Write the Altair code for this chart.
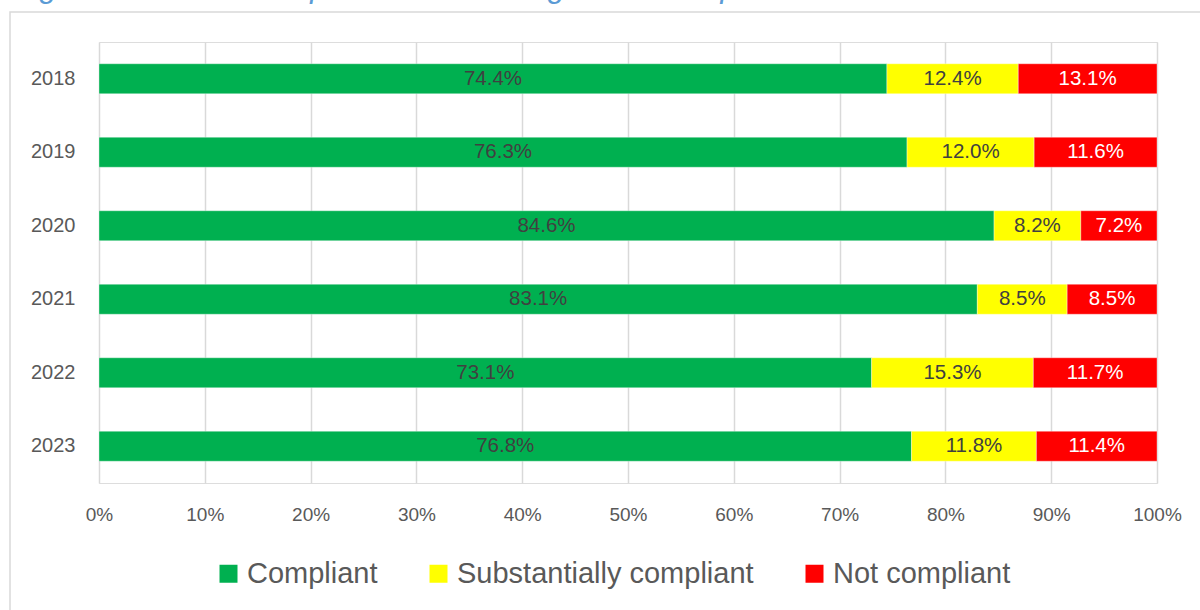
import altair as alt
import pandas as pd

# Compliance outcomes by inspection year (percent of regulations inspected)
years = ["2018", "2019", "2020", "2021", "2022", "2023"]
compliant = [74.4, 76.3, 84.6, 83.1, 73.1, 76.8]
substantially = [12.4, 12.0, 8.2, 8.5, 15.3, 11.8]
not_compliant = [13.1, 11.6, 7.2, 8.5, 11.7, 11.4]

categories = ["Compliant", "Substantially compliant", "Not compliant"]
colors = ["#00B050", "#FFFF00", "#FF0000"]
label_colors = ["#404040", "#404040", "#FFFFFF"]
title_text = "Figure 4: Overall compliance with all regulations inspected"

rows = []
for i, y in enumerate(years):
    for k, (cat, vals) in enumerate(zip(categories, [compliant, substantially, not_compliant])):
        rows.append({"year": y, "category": cat, "idx": k, "value": vals[i],
                     "label": f"{vals[i]:.1f}%", "lcolor": label_colors[k]})
df = pd.DataFrame(rows)

FONT = "Liberation Sans"
GREY = "#595959"

base = alt.Chart(df).transform_stack(
    stack="value", as_=["x0", "x1"], groupby=["year"], offset="normalize",
    sort=[alt.SortField("idx", order="ascending")]
).transform_calculate(mid="(datum.x0 + datum.x1) / 2")

y_enc = alt.Y("year:N", sort=years, title=None,
              scale=alt.Scale(paddingInner=0.592, paddingOuter=0.296),
              axis=alt.Axis(labelFont=FONT, labelFontSize=20, labelColor=GREY,
                            labelPadding=24, ticks=False, domain=False, grid=False))

bars = base.mark_bar(stroke="#FFFFFF", strokeWidth=0.6, strokeOpacity=0.6).encode(
    x=alt.X("x0:Q", title=None,
            scale=alt.Scale(domain=[0, 1], nice=False, zero=True),
            axis=alt.Axis(format=".0%", values=[i / 10 for i in range(11)],
                          labelFont=FONT, labelFontSize=19, labelColor=GREY,
                          labelPadding=22, labelFlush=False, ticks=False, domain=False,
                          grid=True, gridColor="#D9D9D9", gridWidth=1.5)),
    x2="x1:Q",
    y=y_enc,
    color=alt.Color("category:N", sort=categories,
                    scale=alt.Scale(domain=categories, range=colors),
                    legend=alt.Legend(title=None, orient="none", direction="horizontal",
                                      legendX=115, legendY=517, padding=0,
                                      symbolType="square", symbolSize=324,
                                      symbolStrokeWidth=0, labelFont=FONT,
                                      labelFontSize=29, labelColor=GREY,
                                      labelOffset=4, columnPadding=46,
                                      labelLimit=500)),
    order=alt.Order("idx:Q"),
)

labels = base.mark_text(font=FONT, fontSize=20.5, baseline="middle", align="center").encode(
    x="mid:Q",
    y=alt.Y("year:N", sort=years),
    text="label:N",
    color=alt.Color("lcolor:N", scale=None),
)

one = alt.Data(values=[{}])

frame = alt.Chart(one).mark_rect(fill=None, stroke="#D9D9D9", strokeWidth=1.5).encode(
    x=alt.value(-89), x2=alt.value(1300), y=alt.value(-30), y2=alt.value(700)
)

heading = alt.Chart(one).mark_text(
    text=title_text, font=FONT, fontStyle="italic", fontSize=31,
    color="#5B9BD5", align="left", baseline="alphabetic"
).encode(x=alt.value(-85), y=alt.value(-45))

chart = alt.layer(frame, heading, bars, labels).properties(
    width=1058, height=441,
    autosize=alt.AutoSizeParams(type="none"),
    padding={"left": 99, "top": 42, "right": 43, "bottom": 127},
).configure_view(stroke=None).configure(background="#FFFFFF")

chart.save("out.html", embed_options={"renderer": "svg", "actions": False})
